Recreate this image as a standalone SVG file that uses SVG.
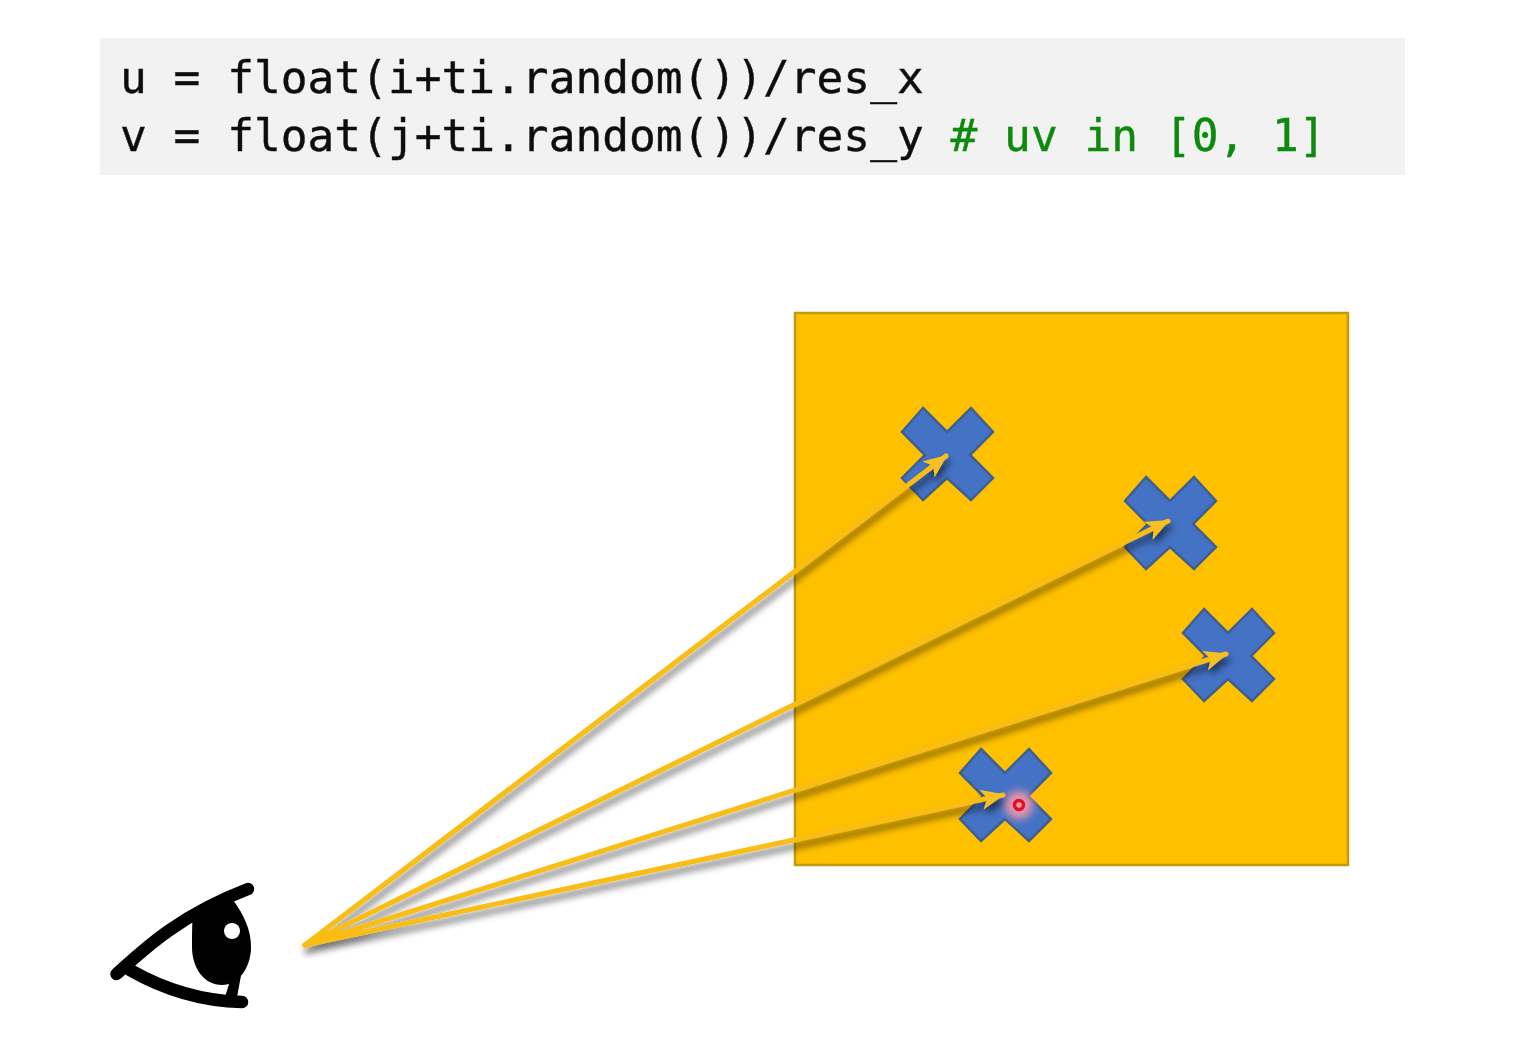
<svg xmlns="http://www.w3.org/2000/svg" width="1514" height="1050" viewBox="0 0 1514 1050">
<style>
.code{font-family:"DejaVu Sans Mono","Liberation Mono",monospace;font-size:44.5px;fill:#111;stroke:#111;stroke-width:0.4}
.cmt{fill:#0a8a0a;stroke:#0a8a0a}
.ray{fill:none;stroke:#f8bd12;stroke-width:5;stroke-linecap:round;marker-end:url(#head)}
.cross{fill:#4472c4;stroke:#3f5f90;stroke-width:2.500}
.lid{fill:none;stroke:#000;stroke-width:12.500;stroke-linecap:round}
</style>
<defs>
<marker id="head" markerUnits="userSpaceOnUse" markerWidth="26" markerHeight="24" refX="22" refY="12" orient="auto">
<path d="M0 2 L24 12 L0 22 L6 12 Z" fill="#f8c020"/>
</marker>
<filter id="shadow" filterUnits="userSpaceOnUse" x="280" y="420" width="1000" height="560">
<feGaussianBlur in="SourceAlpha" stdDeviation="3.500"/>
<feOffset dx="2" dy="6"/>
<feComponentTransfer><feFuncA type="linear" slope="0.55"/></feComponentTransfer>
<feMerge><feMergeNode/><feMergeNode in="SourceGraphic"/></feMerge>
</filter>
<filter id="soft" x="-10%" y="-10%" width="120%" height="120%"><feGaussianBlur stdDeviation="0.600"/></filter>
<filter id="glow" x="-80%" y="-80%" width="260%" height="260%"><feGaussianBlur stdDeviation="4"/></filter>
<path id="x" d="M-24 -46 L0 -22 L24 -46 L46 -22 L23 1 L46 24 L24 46 L0 24 L-24 46 L-45 24 L-22 1 L-45 -22 Z"/>
</defs>
<rect width="1514" height="1050" fill="#fff"/>
<g id="code" filter="url(#soft)">
<rect x="100" y="38" width="1305" height="137" fill="#f2f2f2"/>
<text class="code" x="120" y="93">u = float(i+ti.random())/res_x</text>
<text class="code" x="120" y="151">v = float(j+ti.random())/res_y <tspan class="cmt"># uv in [0, 1]</tspan></text>
</g>
<g id="square"><rect x="795" y="313" width="553" height="552" fill="#ffc000" stroke="#c49a10" stroke-width="2.500"/></g>
<g id="cross1"><use href="#x" class="cross" x="947" y="454"/></g>
<g id="cross2"><use href="#x" class="cross" x="1170" y="523"/></g>
<g id="cross3"><use href="#x" class="cross" x="1228" y="655"/></g>
<g id="cross4"><use href="#x" class="cross" x="1005" y="795"/></g>
<g id="connectors" filter="url(#shadow)">
<line class="ray" x1="305" y1="945" x2="946" y2="456"/>
<line class="ray" x1="305" y1="945" x2="1168" y2="521"/>
<line class="ray" x1="305" y1="945" x2="1226" y2="654"/>
<line class="ray" x1="305" y1="945" x2="1003" y2="795"/>
</g>
<g id="pointer">
<circle cx="1019" cy="805" r="14" fill="#ff9aa8" opacity="0.9" filter="url(#glow)"/>
<circle cx="1019" cy="805" r="4.500" fill="#ff9aa8" stroke="#e0102a" stroke-width="3.500"/>
</g>
<g id="eye" filter="url(#soft)">
<path d="M233 900 C244 915 251 930 251 947 C251 968 238 985 222 985 C204 985 192 968 192 947 C192 935 192 925 193 910 Z" fill="#000"/>
<circle cx="232" cy="931" r="8" fill="#fff"/>
<path class="lid" d="M116.500 974 C145 948 180 915 248 889"/>
<path class="lid" d="M130 970 C165 990 200 1001 242 1002"/>
<path d="M241 970 L236 997 L226 997 L232 978 Z" fill="#000" stroke="#000" stroke-width="2"/>
</g>
</svg>
